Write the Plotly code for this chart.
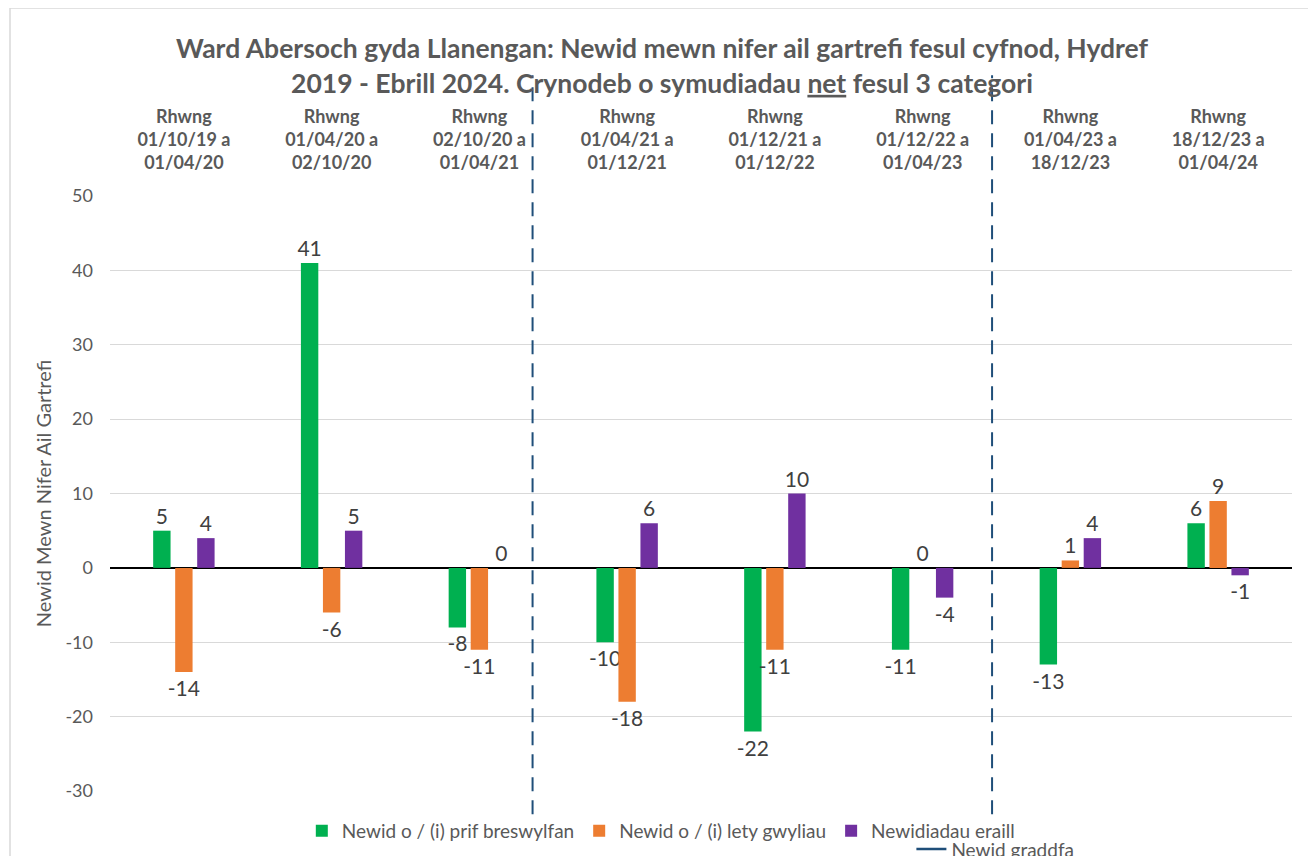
import plotly.graph_objects as go

# 数据
periods = [
    "Rhwng<br>01/10/19 a<br>01/04/20",
    "Rhwng<br>01/04/20 a<br>02/10/20",
    "Rhwng<br>02/10/20 a<br>01/04/21",
    "Rhwng<br>01/04/21 a<br>01/12/21",
    "Rhwng<br>01/12/21 a<br>01/12/22",
    "Rhwng<br>01/12/22 a<br>01/04/23",
    "Rhwng<br>01/04/23 a<br>18/12/23",
    "Rhwng<br>18/12/23 a<br>01/04/24",
]
prif_breswylfan = [5, 41, -8, -10, -22, -11, -13, 6]
lety_gwyliau = [-14, -6, -11, -18, -11, 0, 1, 9]
newidiadau_eraill = [4, 5, 0, 6, 10, -4, 4, -1]
y_ticks = [-30, -20, -10, 0, 10, 20, 30, 40, 50]
# 刻度变化位置（类别轴坐标）
newid_graddfa = [2.36, 5.47]

FONT = "Lato, 'Open Sans', sans-serif"
TEXT_COLOR = "#404040"
GREY = "#595959"

fig = go.Figure()

series = [
    ("Newid o / (i) prif breswylfan", prif_breswylfan, "#00b050"),
    ("Newid o / (i) lety gwyliau", lety_gwyliau, "#ed7d31"),
    ("Newidiadau eraill", newidiadau_eraill, "#7030a0"),
]
for name, vals, color in series:
    fig.add_trace(go.Bar(
        x=list(range(len(periods))), y=vals, name=name,
        marker=dict(color=color, line=dict(width=0)),
        text=[str(v) for v in vals], textposition="outside",
        constraintext="none",
        textfont=dict(size=21, color=TEXT_COLOR, family=FONT),
        cliponaxis=False,
    ))

# 图例项：刻度变化虚线（放在第二个图例里，换行显示）
fig.add_trace(go.Scatter(
    x=[None], y=[None], mode="lines", name="Newid graddfa",
    line=dict(color="#1f4e79", width=2.5), legend="legend2",
))

for xv in newid_graddfa:
    fig.add_shape(type="line", xref="x", yref="paper",
                  x0=xv, x1=xv, y0=-0.039, y1=1.203,
                  line=dict(color="#1f4e79", width=2, dash="14px,9px"))

# 外框
fig.add_shape(type="rect", xref="paper", yref="paper",
              x0=-0.0846, x1=1.0152, y0=-0.2, y1=1.316,
              line=dict(color="#d9d9d9", width=1.5), layer="below")

# 页面 body 有 8px 边距，所以画布缩小 8px
fig.update_layout(
    width=1308, height=848,
    margin=dict(l=102, r=24, t=188, b=65, autoexpand=False),
    plot_bgcolor="#ffffff", paper_bgcolor="#ffffff",
    font=dict(family=FONT, color=TEXT_COLOR),
    title=dict(
        text="<b>Ward Abersoch gyda Llanengan: Newid mewn nifer ail gartrefi fesul cyfnod, Hydref<br>"
             "2019 - Ebrill 2024. Crynodeb o symudiadau <u>net</u> fesul 3 categori</b>",
        x=0.5, xanchor="center", y=0.9406, yanchor="top",
        font=dict(size=26.5, color=GREY, family=FONT),
    ),
    barmode="group", bargap=0.553, bargroupgap=0.21,
    showlegend=True,
    legend=dict(orientation="h", x=0.466, xanchor="center", y=-0.035, yanchor="top",
                font=dict(size=19, color=GREY, family=FONT),
                itemwidth=30, traceorder="normal", bgcolor="rgba(0,0,0,0)"),
    legend2=dict(orientation="h", x=0.678, xanchor="left", y=-0.066, yanchor="top",
                 font=dict(size=19, color=GREY, family=FONT),
                 itemwidth=30, bgcolor="rgba(0,0,0,0)"),
)
fig.update_xaxes(
    side="top", tickmode="array", tickvals=list(range(len(periods))),
    ticktext=["<b>" + p + "</b>" for p in periods],
    range=[-0.5, len(periods) - 0.5],
    tickfont=dict(size=18, color=GREY, family=FONT),
    showgrid=False, showline=False, zeroline=False,
    ticks="", ticklabelstandoff=22, automargin=False,
)
fig.update_yaxes(
    range=[-30, 50], tickmode="array", tickvals=y_ticks,
    ticktext=[str(t) for t in y_ticks],
    showgrid=True, gridcolor="#d9d9d9", gridwidth=1,
    zeroline=True, zerolinecolor="#000000", zerolinewidth=1.5,
    tickfont=dict(size=18, color=GREY, family=FONT),
    ticklabelstandoff=16, automargin=False,
    title=dict(text="Newid Mewn Nifer Ail Gartrefi", font=dict(size=20, color=GREY, family=FONT),
               standoff=8),
    ticks="", showline=False,
)

fig.write_html("out.html")
